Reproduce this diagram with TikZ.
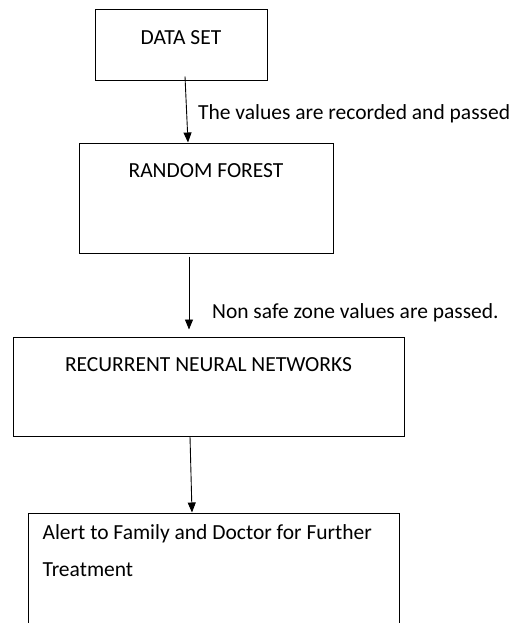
\documentclass[tikz,border=0pt]{standalone}
\usepackage{fontspec}
\setmainfont{Carlito}
\usetikzlibrary{arrows.meta}

\tikzset{every picture/.style={line width=0.75pt}}
\tikzset{
  stage/.style={draw, line width=1pt, inner sep=0pt},
  boxtext/.style={font=\fontsize{21.5}{37}\selectfont, inner sep=0.75pt},
  flow/.style={line width=0.9pt, -{Triangle[length=10pt,width=8pt]}},
  note/.style={anchor=west, inner sep=0.75pt, font=\fontsize{21.5}{26}\selectfont}
}

\begin{document}
\begin{tikzpicture}[x=1pt,y=1pt,yscale=-1,xscale=1]
\useasboundingbox (0,0) rectangle (511,623);
\clip (0,0) rectangle (511,623);

% Boxes
\node [stage, minimum width=172, minimum height=71,
  label={[boxtext, anchor=center, yshift=-28pt]north:DATA SET}] (ds) at (181,45.5) {};
\node [stage, minimum width=254, minimum height=110,
  label={[boxtext, anchor=center, yshift=-28pt]north:RANDOM FOREST}] (rf) at (206,198) {};
\node [stage, minimum width=391, minimum height=99,
  label={[boxtext, anchor=center, yshift=-28pt]north:RECURRENT NEURAL NETWORKS}] (rnn) at (208.5,386.5) {};
\node [stage, minimum width=371, minimum height=187,
  label={[boxtext, anchor=north west, align=left, xshift=14pt, yshift=-11pt]north west:Alert to Family and Doctor for Further\\Treatment}] (alert) at (213.5,606.5) {};

% Arrows
\draw [flow] ([xshift=4pt,yshift=-5pt]ds.south) -- ([xshift=-18pt]rf.north);
\draw [flow] ([xshift=-17pt,yshift=3pt]rf.south) -- ([xshift=-19.5pt,yshift=-7pt]rnn.north);
\draw [flow] ([xshift=-18.5pt]rnn.south) -- ([xshift=-21.5pt]alert.north);

% Text Node
\node [note] (lbla) at (197,114) {The values are recorded and passed};
% Text Node
\node [note] (lblb) at (211,313) {Non safe zone values are passed.};

\end{tikzpicture}
\end{document}
